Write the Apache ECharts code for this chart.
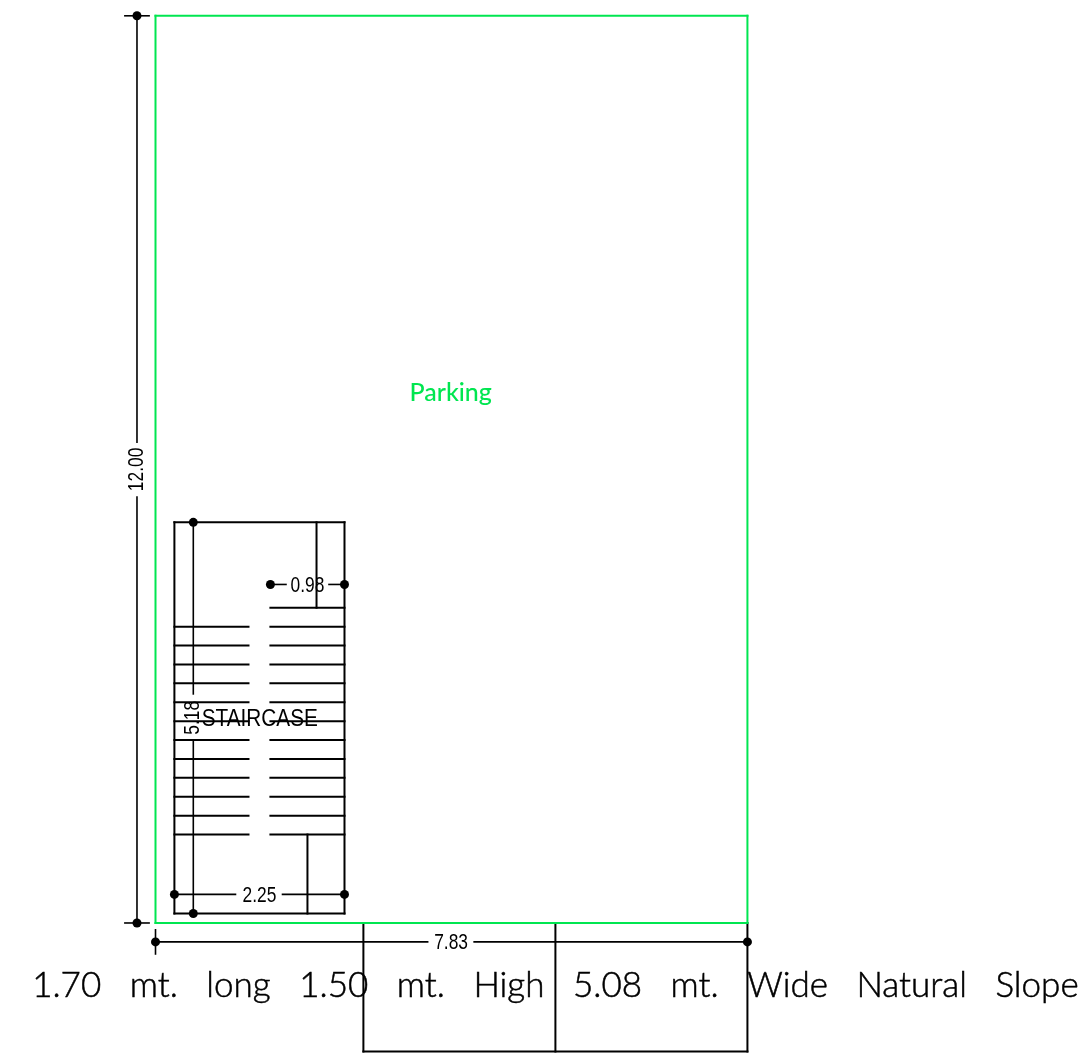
<!DOCTYPE html>
<html>
<head>
<meta charset="utf-8">
<style>html,body{margin:0;padding:0;background:#fff}#c{width:1083px;height:1058px}</style>
<script src="https://cdn.jsdelivr.net/npm/echarts@6/dist/echarts.min.js"></script>
</head>
<body>
<div id="c"></div>
<script>
// All values in metres, measured from the lower-left corner of the parking plot.
const parkingOutline = [[0,0,7.83,0],[7.83,0,7.83,12],[7.83,12,0,12],[0,12,0,0]];
const slopeOutline = [[2.75,0,2.75,-1.70],[2.75,-1.70,7.83,-1.70],[7.83,-1.70,7.83,0],[5.29,0,5.29,-1.70]];
const stairOutline = [[0.25,0.125,2.50,0.125],[2.50,0.125,2.50,5.30],[2.50,5.30,0.25,5.30],[0.25,5.30,0.25,0.125],
                      [2.13,4.17,2.13,5.30],[2.01,0.125,2.01,1.17]];
const leftTreadLevels = [1.17,1.42,1.67,1.92,2.17,2.42,2.67,2.92,3.17,3.42,3.67,3.92];
const rightTreadLevels = [1.17,1.42,1.67,1.92,2.17,2.42,2.67,2.92,3.17,3.42,3.67,3.92,4.17];
const leftTreadSpan = [0.25,1.23];
const rightTreadSpan = [1.52,2.50];
const dimensionLines = [
  [-0.245,12,-0.245,6.36],[-0.245,5.635,-0.245,0],
  [-0.405,12,-0.085,12],[-0.405,0,-0.085,0],
  [0,-0.25,3.60,-0.25],[4.215,-0.25,7.83,-0.25],
  [0,-0.09,0,-0.41],
  [0.25,0.378,1.058,0.378],[1.68,0.378,2.50,0.378],
  [0.50,5.30,0.50,3.03],[0.50,2.42,0.50,0.125],
  [1.52,4.478,1.726,4.478],[2.295,4.478,2.50,4.478]
];
const dimensionDots = [[-0.245,12],[-0.245,0],[0,-0.25],[7.83,-0.25],[0.25,0.378],[2.50,0.378],
                       [0.50,5.30],[0.50,0.125],[1.52,4.478],[2.50,4.478]];
const dimensionLabels = [
  ['12.00',-0.25,6.0,90],
  ['7.83',3.91,-0.265,0],
  ['2.25',1.375,0.363,0],
  ['5.18',0.49,2.715,90],
  ['0.98',2.01,4.463,0]
];
const parkingLabel = ['Parking',3.905,7.01];
const staircaseLabel = ['STAIRCASE',1.38,2.69];
const noteLabel = ['1.70   mt.   long   1.50   mt.   High   5.08   mt.   Wide   Natural   Slope', 5.29, -0.825];

const BLACK = '#000000', GREEN = '#00e650';
const SANS = '"Liberation Sans"';
const treadSegs = leftTreadLevels.map(y => [leftTreadSpan[0],y,leftTreadSpan[1],y])
  .concat(rightTreadLevels.map(y => [rightTreadSpan[0],y,rightTreadSpan[1],y]));

function segSeries(data, color, width, z) {
  return {
    type: 'custom', coordinateSystem: 'cartesian2d', silent: true, z, clip: false,
    encode: {x:[0,2], y:[1,3]},
    data,
    renderItem(params, api) {
      const a = api.coord([api.value(0), api.value(1)]);
      const b = api.coord([api.value(2), api.value(3)]);
      return {type:'line', shape:{x1:a[0],y1:a[1],x2:b[0],y2:b[1]},
              style:{stroke:color, lineWidth:width, lineCap:'square'}};
    }
  };
}
function textSeries(rows, style, z, scaleX) {
  return {
    type: 'custom', coordinateSystem: 'cartesian2d', silent: true, z, clip: false,
    encode: {x:1, y:2},
    data: rows.map(r => ({value:[0, r[1], r[2], r[3] || 0], name:r[0]})),
    renderItem(params, api) {
      const p = api.coord([api.value(1), api.value(2)]);
      return {type:'text', x:p[0], y:p[1], scaleX:scaleX || 1, rotation:api.value(3)*Math.PI/180,
              style:Object.assign({text:rows[params.dataIndex][0], align:'center', verticalAlign:'middle'}, style)};
    }
  };
}

const chart = echarts.init(document.getElementById('c'), null, {renderer:'canvas'});
chart.setOption({
  animation: false,
  backgroundColor: '#ffffff',
  grid: {left:0, right:0, top:0, bottom:0},
  xAxis: {type:'value', min:-2.057, max:12.269, show:false},
  yAxis: {type:'value', min:-1.786, max:12.209, show:false},
  series: [
    segSeries(dimensionLines, BLACK, 1.6, 2),
    segSeries(slopeOutline, BLACK, 2, 3),
    segSeries(stairOutline, BLACK, 2, 3),
    segSeries(treadSegs, BLACK, 2, 3),
    segSeries(parkingOutline, GREEN, 2, 4),
    {type:'scatter', data:dimensionDots, symbol:'circle', symbolSize:9, silent:true, z:5,
     itemStyle:{color:BLACK, opacity:1}},
    textSeries(dimensionLabels, {fill:BLACK, fontFamily:SANS, fontSize:22}, 6, 0.79),
    textSeries([staircaseLabel], {fill:BLACK, fontFamily:SANS, fontSize:24}, 6, 0.865),
    textSeries([parkingLabel], {fill:GREEN, fontFamily:'Lato', fontWeight:500, fontSize:25}, 6),
    textSeries([noteLabel], {fill:BLACK, stroke:BLACK, lineWidth:0.5, fontFamily:'Lato', fontWeight:300, fontSize:35}, 6, 1)
  ]
});
</script>
</body>
</html>
